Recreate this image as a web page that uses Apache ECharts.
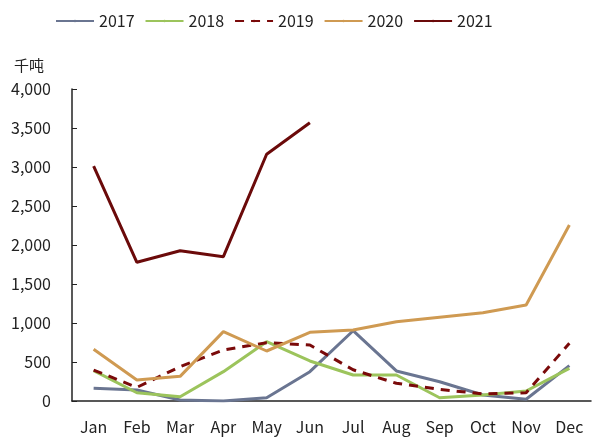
<!DOCTYPE html>
<html><head><meta charset="utf-8">
<script src="https://cdn.jsdelivr.net/npm/echarts@6/dist/echarts.min.js"></script>
<style>html,body{margin:0;padding:0;background:#fff}#c{width:604px;height:441px}</style>
</head><body><div id="c"></div>
<script>
const months = ['Jan','Feb','Mar','Apr','May','Jun','Jul','Aug','Sep','Oct','Nov','Dec'];
const s2017 = [163,141,13,0,42,376,901,385,247,77,22,453];
const s2018 = [389,106,55,376,760,513,333,333,42,77,128,419];
const s2019 = [397,175,440,654,748,718,400,227,150,90,106,739];
const s2020 = [663,269,316,889,641,880,910,1017,1075,1132,1231,2256];
const s2021 = [3010,1778,1927,1850,3163,3568];
const unitLabel = '千吨';
const font = '"Noto Sans CJK SC", "Noto Sans", sans-serif';
const chart = echarts.init(document.getElementById('c'), null, {renderer:'canvas'});
function line(name, data, color, dashed){
  return {name, type:'line', data, symbol:'none', smooth:false,
    lineStyle:{color, width:3, type: dashed ? [9,7] : 'solid'},
    itemStyle:{color}, emphasis:{disabled:true}};
}
chart.setOption({
  animation:false,
  textStyle:{fontFamily:font},
  legend:{top:8, left:50, itemWidth:38, itemHeight:3, itemGap:10,
    textStyle:{fontSize:16, color:'#222', fontFamily:font},
    data:['2017','2018','2019','2020','2021']},
  graphic:[{type:'text', left:14, top:58, style:{text:unitLabel, fontSize:15, fill:'#222', fontFamily:font}}],
  grid:{left:72, right:13, top:89, bottom:40},
  xAxis:{type:'category', data:months, boundaryGap:true,
    axisLine:{lineStyle:{color:'#222', width:1.5}},
    axisTick:{inside:true, length:5, lineStyle:{color:'#222'}},
    axisLabel:{fontSize:16, color:'#222', margin:18, fontFamily:font}},
  yAxis:{type:'value', min:0, max:4000, interval:500,
    splitLine:{show:false},
    axisLine:{show:true, lineStyle:{color:'#222', width:1.5}},
    axisTick:{show:true, inside:true, length:5, lineStyle:{color:'#222'}},
    axisLabel:{fontSize:16, color:'#222', margin:21, fontFamily:font,
      formatter:v=>v.toLocaleString('en-US')}},
  series:[
    line('2017', s2017, '#6A7591', false),
    line('2018', s2018, '#9CC45C', false),
    line('2019', s2019, '#7A0A0A', true),
    line('2020', s2020, '#CF9A52', false),
    line('2021', s2021, '#6B0A0A', false)
  ]
});
</script></body></html>
